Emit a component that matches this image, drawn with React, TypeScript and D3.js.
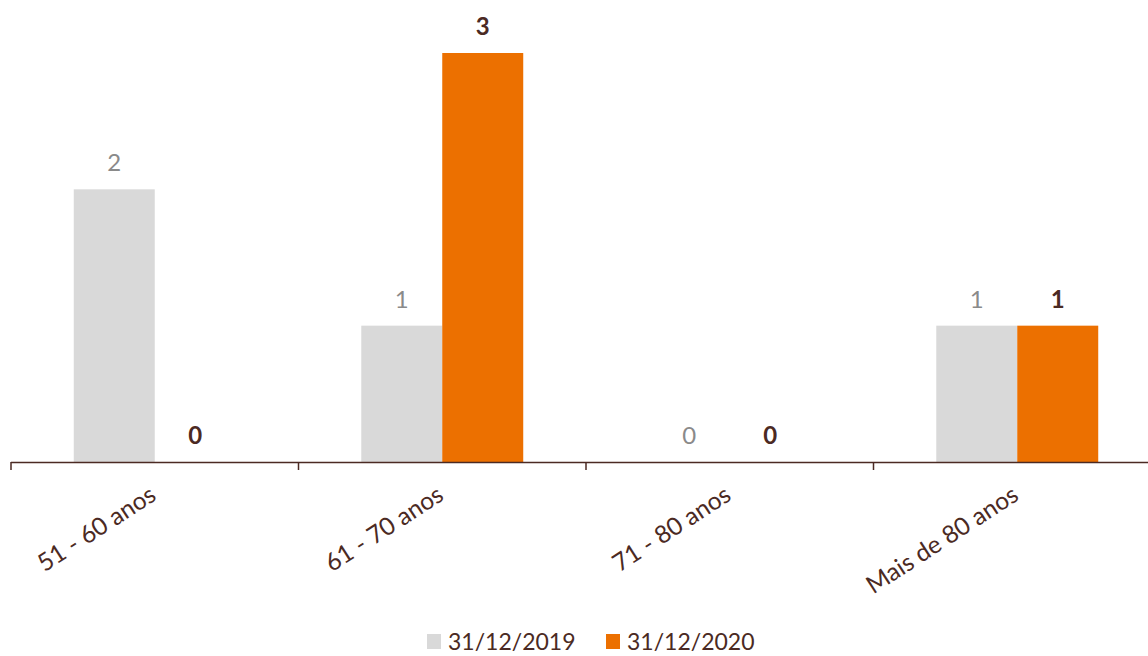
import React from "react";
import * as d3 from "d3";

const categories = ["51 - 60 anos", "61 - 70 anos", "71 - 80 anos", "Mais de 80 anos"];
const seriesNames = ["31/12/2019", "31/12/2020"];
const values2019 = [2, 1, 0, 1];
const values2020 = [0, 3, 0, 1];

const W = 1148;
const H = 656;
const FONT = "Lato, 'Open Sans', sans-serif";
const BROWN = "#4b2a23";
const colors = ["#d9d9d9", "#ec7000"];
const labelColors = ["#8a8a8a", BROWN];
const labelWeights = [400, 700];

export default function App() {
  const x0 = d3.scaleBand<string>().domain(categories).range([11, 1161]).paddingInner(0).paddingOuter(0);
  const x1 = d3.scaleBand<string>().domain(seriesNames).range([0, x0.bandwidth()]).paddingInner(0).paddingOuter(0.775);
  const y = d3.scaleLinear().domain([0, 3]).range([462, 53]);
  const series = [values2019, values2020];

  return (
    <svg width={W} height={H} style={{ position: "absolute", left: 0, top: 0 }} fontFamily={FONT}>
      {categories.map((c, i) => (
        <g key={c}>
          {series.map((vals, s) => {
            const bx = (x0(c) as number) + (x1(seriesNames[s]) as number);
            const bw = x1.bandwidth();
            const v = vals[i];
            return (
              <g key={s}>
                {v > 0 && (
                  <rect x={bx} y={y(v)} width={bw} height={y(0) - y(v)} fill={colors[s]} />
                )}
                <text
                  x={bx + bw / 2}
                  y={y(v) - 18}
                  textAnchor="middle"
                  fontSize={24}
                  fill={labelColors[s]}
                  fontWeight={labelWeights[s]}
                >
                  {v}
                </text>
              </g>
            );
          })}
        </g>
      ))}
      <line x1={11} x2={W} y1={462.5} y2={462.5} stroke={BROWN} strokeWidth={1.5} />
      {categories.map((c) => (
        <line key={"t" + c} x1={(x0(c) as number)} x2={(x0(c) as number)} y1={462} y2={470} stroke={BROWN} strokeWidth={1.5} />
      ))}
      {categories.map((c) => {
        const cx = (x0(c) as number) + x0.bandwidth() / 2 + 3;
        const cy = 499;
        return (
          <text
            key={"l" + c}
            transform={`translate(${cx},${cy}) rotate(-33)`}
            textAnchor="end"
            fontSize={24.5}
            fill={BROWN}
          >
            {c}
          </text>
        );
      })}
      <g>
        <rect x={427} y={634} width={14} height={15} fill={colors[0]} />
        <text x={448} y={650} fontSize={23} fill={BROWN}>{seriesNames[0]}</text>
        <rect x={606} y={634} width={14} height={15} fill={colors[1]} />
        <text x={627} y={650} fontSize={23} fill={BROWN}>{seriesNames[1]}</text>
      </g>
    </svg>
  );
}
